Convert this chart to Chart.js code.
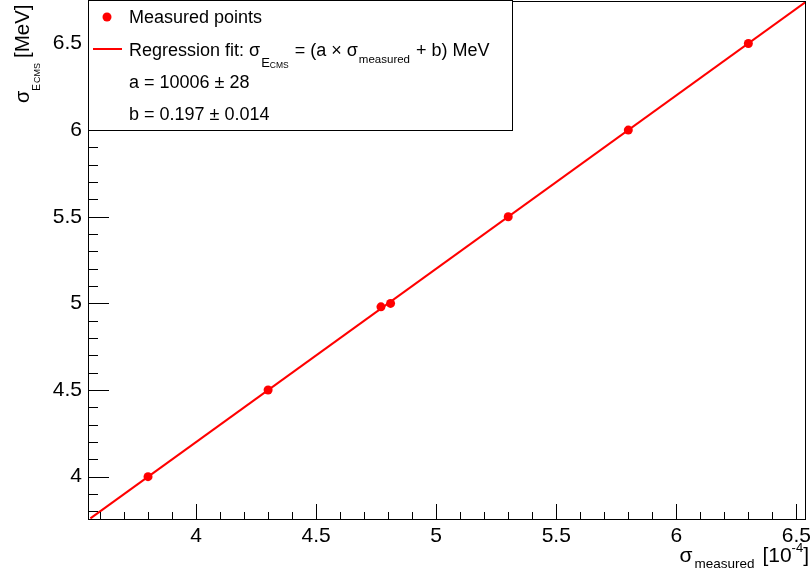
<!DOCTYPE html>
<html><head><meta charset="utf-8">
<script src="https://cdn.jsdelivr.net/npm/chart.js@4"></script>
<style>html,body{margin:0;padding:0;background:#fff}</style>
</head><body>
<canvas id="c" width="811" height="579"></canvas>
<script>
// Calibration points: measured relative spread (units of 1e-4) vs beam energy spread (MeV)
const sigmaMeasured = [3.80, 4.30, 4.77, 4.81, 5.30, 5.80, 6.30];
const sigmaEcms     = [4.00, 4.50, 4.98, 5.00, 5.50, 6.00, 6.50];

// Linear regression result: sigma_E = (a * sigma_measured + b) MeV
const fitA = 10006, fitAErr = 28;
const fitB = 0.197, fitBErr = 0.014;
const fitRange = [3.56, 6.54];

// Axes
const xRange = [3.55, 6.54];
const yRange = [3.75, 6.745];
const xTicks = [4, 4.5, 5, 5.5, 6, 6.5];
const yTicks = [4, 4.5, 5, 5.5, 6, 6.5];
const minorStep = 0.1;

const FAMILY = '"Liberation Sans", Arial, Helvetica, sans-serif';
const f = px => px + 'px ' + FAMILY;
const RED = '#ff0000';

// Plot frame in canvas pixels
const FRAME = { left: 88, top: 1, right: 806, bottom: 520 };

const fitLine = fitRange.map(x => ({ x, y: fitA * 1e-4 * x + fitB }));
const points = sigmaMeasured.map((x, i) => ({ x, y: sigmaEcms[i] }));

// Draw a run of text pieces [text, size, dy, extraGap]
function rich(ctx, x, y, parts) {
  let cx = x;
  for (const [t, s, dy, gap] of parts) {
    ctx.font = f(s);
    ctx.fillText(t, cx, y + (dy || 0));
    cx += ctx.measureText(t).width + (gap || 0);
  }
  return cx;
}
function richWidth(ctx, parts) {
  let w = 0;
  for (const [t, s, , gap] of parts) { ctx.font = f(s); w += ctx.measureText(t).width + (gap || 0); }
  return w;
}

// Pin the chart area to the frame regardless of label sizes
const areaPlugin = {
  id: 'area',
  afterLayout(chart) {
    const a = chart.chartArea;
    Object.assign(a, FRAME);
    a.width = FRAME.right - FRAME.left;
    a.height = FRAME.bottom - FRAME.top;
    const { x, y } = chart.scales;
    x.left = FRAME.left; x.right = FRAME.right; x.width = a.width;
    y.top = FRAME.top; y.bottom = FRAME.bottom; y.height = a.height;
    x.configure(); y.configure();
  }
};

const framePlugin = {
  id: 'frame',
  afterDraw(chart) {
    const { ctx, chartArea: a, scales: { x, y } } = chart;
    ctx.save();
    ctx.strokeStyle = '#000';
    ctx.lineWidth = 1;
    // frame
    ctx.strokeRect(a.left + 0.5, a.top + 0.5, a.right - a.left - 1, a.bottom - a.top - 1);

    // inward tick marks on bottom and left axes
    ctx.beginPath();
    for (let k = Math.ceil(x.min / minorStep - 1e-9); k * minorStep <= x.max + 1e-9; k++) {
      const v = k * minorStep;
      const px = Math.round(x.getPixelForValue(v)) + 0.5;
      const len = (k % 5 === 0) ? 16 : 8;
      ctx.moveTo(px, a.bottom); ctx.lineTo(px, a.bottom - len);
    }
    for (let k = Math.ceil(y.min / minorStep - 1e-9); k * minorStep <= y.max + 1e-9; k++) {
      const v = k * minorStep;
      const py = Math.round(y.getPixelForValue(v)) + 0.5;
      const len = (k % 5 === 0) ? 21 : 10;
      ctx.moveTo(a.left, py); ctx.lineTo(a.left + len, py);
    }
    ctx.stroke();

    // legend box
    const lx = a.left, ly = 0, lw = 424, lh = 130;
    ctx.fillStyle = '#fff';
    ctx.fillRect(lx, ly, lw, lh);
    ctx.strokeRect(lx + 0.5, ly + 0.5, lw, lh);

    ctx.fillStyle = RED;
    ctx.beginPath(); ctx.arc(107, 17, 4.5, 0, Math.PI * 2); ctx.fill();
    ctx.strokeStyle = RED; ctx.lineWidth = 2;
    ctx.beginPath(); ctx.moveTo(93, 49); ctx.lineTo(122, 49); ctx.stroke();

    ctx.fillStyle = '#000';
    ctx.textBaseline = 'alphabetic';
    ctx.textAlign = 'left';
    const tx = 129;
    rich(ctx, tx, 23, [['Measured points', 18]]);
    rich(ctx, tx, 56, [
      ['Regression fit: ', 18], ['\u03c3', 18, 0, 1], ['E', 13, 11], ['CMS', 8.5, 12, 1],
      [' = (a \u00d7 ', 18], ['\u03c3', 18, 0, 1], ['measured', 11.5, 7, 1], [' + b) MeV', 18]
    ]);
    rich(ctx, tx, 88, [['a = ' + fitA + ' \u00b1 ' + fitAErr, 18]]);
    rich(ctx, tx, 120, [['b = ' + fitB.toFixed(3) + ' \u00b1 ' + fitBErr.toFixed(3), 18]]);

    // x axis title, right aligned
    const xt = [['\u03c3', 21, 0, 2], ['measured', 13.5, 6, 8], ['[10', 21], ['-4', 13, -10], [']', 21]];
    rich(ctx, 809 - richWidth(ctx, xt), 562, xt);

    // y axis title, rotated, ending at the top
    ctx.save();
    ctx.translate(29, 103);
    ctx.rotate(-Math.PI / 2);
    rich(ctx, 0, 0, [['\u03c3', 20], ['E', 10, 11, 1], ['CMS', 9, 11, 5], ['[MeV]', 20.5]]);
    ctx.restore();

    ctx.restore();
  }
};

new Chart(document.getElementById('c'), {
  type: 'scatter',
  data: {
    datasets: [
      {
        label: 'Regression fit',
        data: fitLine,
        showLine: true,
        borderColor: RED,
        borderWidth: 2,
        pointRadius: 0,
        fill: false
      },
      {
        label: 'Measured points',
        data: points,
        backgroundColor: RED,
        borderColor: RED,
        pointRadius: 4.5,
        pointBorderWidth: 0
      }
    ]
  },
  options: {
    responsive: false,
    animation: false,
    events: [],
    layout: { padding: { left: 0, top: 1, right: 5, bottom: 0 } },
    plugins: { legend: { display: false }, tooltip: { enabled: false } },
    scales: {
      x: {
        type: 'linear',
        min: xRange[0], max: xRange[1],
        afterBuildTicks: s => { s.ticks = xTicks.map(v => ({ value: v })); },
        afterFit: s => { s.height = 59; s.paddingLeft = 0; s.paddingRight = 0; },
        grid: { display: false, drawTicks: false },
        border: { display: false },
        ticks: {
          font: { family: FAMILY, size: 21 }, color: '#000', padding: 4,
          maxRotation: 0, autoSkip: false, callback: v => String(v)
        }
      },
      y: {
        type: 'linear',
        min: yRange[0], max: yRange[1],
        afterBuildTicks: s => { s.ticks = yTicks.map(v => ({ value: v })); },
        afterFit: s => { s.width = 88; s.paddingTop = 0; s.paddingBottom = 0; },
        grid: { display: false, drawTicks: false },
        border: { display: false },
        ticks: {
          font: { family: FAMILY, size: 21 }, color: '#000', padding: 6,
          autoSkip: false, callback: v => String(v)
        }
      }
    }
  },
  plugins: [areaPlugin, framePlugin]
});
</script>
</body></html>
